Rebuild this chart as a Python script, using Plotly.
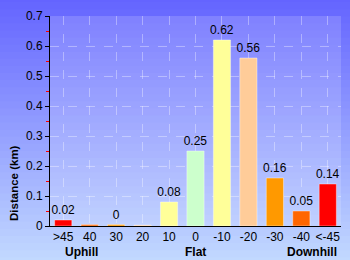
import plotly.graph_objects as go

categories = [">45", "40", "30", "20", "10", "0", "-10", "-20", "-30", "-40", "<-45"]
distances = [0.02, 0.005, 0.005, 0.003, 0.08, 0.25, 0.62, 0.56, 0.16, 0.05, 0.14]
bar_labels = ["0.02", "", "0", "", "0.08", "0.25", "0.62", "0.56", "0.16", "0.05", "0.14"]
bar_colors = ["#ff0000", "#ff6600", "#ff9900", "#ffcc99", "#ffff99", "#ccffcc",
              "#ffff99", "#ffcc99", "#ff9900", "#ff6600", "#ff0000"]
group_labels = ["Uphill", "Flat", "Downhill"]
group_pos = [0.7, 5, 9.4]
y_title = "Distance (km)"

fig = go.Figure()

# background gradient strips
top = (100, 100, 255)
bot = (200, 224, 255)
n = 40
shapes = []
for i in range(n):
    t = i / (n - 1)
    c = tuple(int(top[j] + (bot[j] - top[j]) * t) for j in range(3))
    y1 = 1.1 - i * (1.35 / n)
    y0 = y1 - 1.35 / n - 0.01
    shapes.append(dict(type="rect", xref="paper", yref="paper", x0=-0.3, x1=1.1,
                       y0=y0, y1=y1, fillcolor="rgb(%d,%d,%d)" % c, line_width=0,
                       layer="below"))
shapes.append(dict(type="rect", xref="paper", yref="paper", x0=0, x1=1, y0=0, y1=1,
                   fillcolor="rgba(255,255,255,0.15)", line_width=0, layer="below"))

fig.add_trace(go.Bar(
    x=categories, y=distances, text=bar_labels, textposition="outside",
    constraintext="none",
    textfont=dict(size=12, color="black", family="Liberation Sans"),
    marker=dict(color=bar_colors, line=dict(color="rgba(255,255,255,0.4)", width=1)),
    width=0.65, cliponaxis=False,
))

annotations = []
for lab, pos in zip(group_labels, group_pos):
    annotations.append(dict(x=pos, xref="x", y=-0.125, yref="paper",
                            text="<b>%s</b>" % lab, showarrow=False,
                            font=dict(size=12, color="black", family="Liberation Sans"),
                            yanchor="middle"))
annotations.append(dict(x=-0.124, xref="paper", y=0.014, yref="paper",
                        text="<b>%s</b>" % y_title, showarrow=False, textangle=-90,
                        xanchor="center", yanchor="bottom",
                        font=dict(size=11.5, color="black", family="Liberation Sans")))

fig.update_layout(
    width=350, height=260,
    margin=dict(l=50, r=9, t=10, b=34),
    paper_bgcolor="rgba(0,0,0,0)", plot_bgcolor="rgba(0,0,0,0)",
    shapes=shapes, annotations=annotations, showlegend=False,
    font=dict(family="Liberation Sans", size=11, color="black"),
    xaxis=dict(type="category", showgrid=True, gridcolor="rgba(255,255,255,0.35)",
               griddash="dash", gridwidth=1, showline=True, linecolor="black",
               linewidth=1, ticks="", tickfont=dict(size=12), fixedrange=True),
    yaxis=dict(range=[0, 0.7], dtick=0.1, showgrid=True,
               gridcolor="rgba(255,255,255,0.35)", griddash="dash", gridwidth=1,
               showline=True, linecolor="black", linewidth=1, ticks="outside",
               ticklen=4, tickcolor="black", zeroline=False,
               minor=dict(dtick=0.05, ticks="outside", ticklen=3, tickcolor="red",
                          showgrid=False),
               tickfont=dict(size=12)),
)

fig.write_html("out.html")
